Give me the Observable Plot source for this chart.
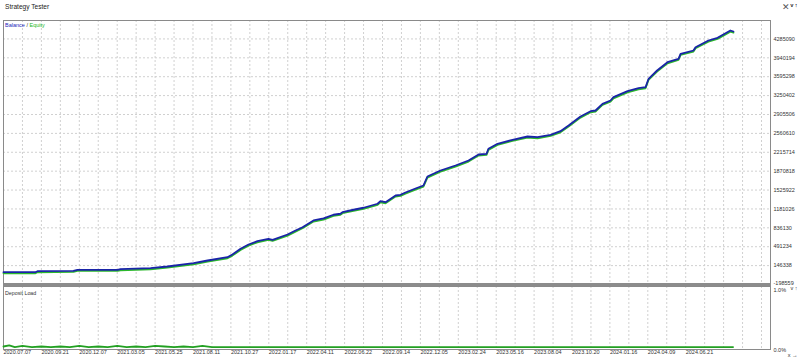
<!DOCTYPE html>
<html>
<head>
<meta charset="utf-8">
<script src="https://cdn.jsdelivr.net/npm/d3@7"></script>
<script src="https://cdn.jsdelivr.net/npm/@observablehq/plot@0.6"></script>
<style>
  html, body { margin: 0; padding: 0; background: #fff; }
  #wrap { position: relative; width: 800px; height: 359px; overflow: hidden; background: #fff; font-family: "Liberation Sans", Arial, sans-serif; }
  .abs { position: absolute; }
  #title { left: 5px; top: 3px; font-size: 6.6px; color: #222; }
  #close { left: 782px; top: 2px; font-size: 9px; color: #555; }
  #legend { left: 5px; top: 22px; font-size: 5.5px; color: #333; }
  #dl { left: 5px; top: 290px; font-size: 5.3px; color: #333; }
  #sep { left: 3px; top: 283px; width: 768px; height: 3px; background: #8c8c8c; }
</style>
</head>
<body>
<div id="wrap">
  <div id="main" class="abs" style="left:0;top:0"></div>
  <div id="load" class="abs" style="left:0;top:283px"></div>
  <div id="sep" class="abs"></div>
  <div id="title" class="abs">Strategy Tester</div>
  <div id="close" class="abs">✕</div>
  <div id="legend" class="abs"><span style="color:#2424b8">Balance</span> / <span style="color:#22b822">Equity</span></div>
  <div id="dl" class="abs">Deposit Load</div>
</div>
<script>
// ---- data ----
const xLabels = ["2020.07.07","2020.09.21","2020.12.07","2021.03.05","2021.05.25","2021.08.11","2021.10.27",
  "2022.01.17","2022.04.11","2022.06.22","2022.09.14","2022.12.05","2023.02.24","2023.05.16",
  "2023.08.04","2023.10.20","2024.01.16","2024.04.09","2024.06.21"];
const yTicks = [-198559,146338,491234,836130,1181026,1525922,1870818,2215714,2560610,2905506,3250402,3595298,3940194,4285090];
const loadTicks = [0, 1];

// balance curve: position along the tester axis (grid units) and balance value
const balanceX = [0,1.69,1.79,3.69,3.9,6.02,6.17,7.76,8.65,10.03,10.77,11.82,12.08,12.51,12.93,13.4,13.98,14.2,14.99,15.41,
  15.78,16.36,16.89,17.41,17.78,17.89,18.47,19.0,19.74,19.89,20.16,20.69,20.95,21.21,21.74,22.16,22.37,23.06,23.85,24.54,
  25.07,25.49,25.59,26.07,26.86,27.65,28.18,28.87,29.39,29.82,30.45,30.98,31.24,31.61,32.03,32.19,32.93,33.51,33.88,34.04,
  34.49,35.04,35.62,35.73,36.41,36.52,37.2,37.68,38.36,38.52];
const balanceV = [26000,26000,44000,51600,69800,69800,80800,99000,130100,190300,239600,299900,349200,453300,531800,592000,635800,617600,714300,787400,
  847600,971000,1007500,1075000,1093300,1122500,1166300,1202800,1275900,1323300,1305100,1426400,1439200,1481200,1554200,1609000,1773300,1882900,1974100,2065400,
  2175000,2187800,2279100,2370300,2443400,2503600,2490800,2534700,2600400,2704500,2868800,2965600,2978300,3100700,3160900,3221200,3330700,3385500,3403700,3557100,
  3708700,3860200,3922300,4013600,4073800,4134100,4256400,4305700,4439000,4420700];

// deposit load (%)
const loadX = [0,0.3,0.6,1,1.5,2,2.5,3,3.5,4,4.5,5,5.5,6,6.5,7,7.5,8,8.5,9,9.5,10,10.5,11,12,14,16,18,20,22,24,26,28,30,32,34,36,38.5];
const loadV = [0.05,0.07,0.04,0.06,0.04,0.05,0.04,0.05,0.04,0.06,0.04,0.05,0.04,0.06,0.04,0.05,0.04,0.06,0.05,0.04,0.05,0.04,0.06,0.04,0.04,0.04,0.04,0.04,0.04,0.04,0.04,0.04,0.04,0.04,0.04,0.04,0.04,0.04];

const balance = balanceX.map((x, i) => ({x, v: balanceV[i]}));
const load = loadX.map((x, i) => ({x, v: loadV[i]}));
const gridPos = d3.range(1, 41);
const labelPos = xLabels.map((d, i) => i * 2);

const common = {
  width: 800,
  marginLeft: 3,
  marginRight: 30,
  style: {fontFamily: "Liberation Sans, Arial, sans-serif", fontSize: "5.5px", background: "transparent", overflow: "visible"}
};
const xDomain = [0, 40.475];
const gridStyle = {stroke: "#d0d0d0", strokeOpacity: 1, strokeDasharray: "2,2", strokeWidth: 1};

const main = Plot.plot({
  ...common,
  height: 286,
  marginTop: 20,
  marginBottom: 2,
  x: {domain: xDomain, axis: null},
  y: {domain: [-198559, 4621550], axis: null},
  marks: [
    Plot.gridX(gridPos, gridStyle),
    Plot.gridY(yTicks.slice(1), gridStyle),
    Plot.frame({stroke: "#8a8a8a"}),
    Plot.line(balance, {x: "x", y: "v", stroke: "#2cb82c", strokeWidth: 1.8, dy: 1.1}),
    Plot.line(balance, {x: "x", y: "v", stroke: "#1a24a8", strokeWidth: 1.8}),
    Plot.axisY(yTicks.slice(1), {anchor: "right", tickSize: 0, tickPadding: 3, fontSize: 5.5, fill: "#333", tickFormat: d => String(d)}),
    Plot.axisY(yTicks.slice(0, 1), {anchor: "right", tickSize: 0, tickPadding: 3, fontSize: 5.5, fill: "#333", dy: -1.5, tickFormat: d => String(d)})
  ]
});
document.getElementById("main").appendChild(main);

const lower = Plot.plot({
  ...common,
  height: 76,
  marginTop: 3,
  marginBottom: 10,
  x: {domain: xDomain},
  y: {domain: [0, 1.05], axis: null},
  marks: [
    Plot.gridX(gridPos, gridStyle),
    Plot.frame({stroke: "#8a8a8a"}),
    Plot.line(load, {x: "x", y: "v", stroke: "#22a022", strokeWidth: 1.8}),
    Plot.axisX(labelPos, {anchor: "bottom", tickSize: 0, tickPadding: 1, textAnchor: "start", fontSize: 5.5, fill: "#333", tickFormat: d => xLabels[d / 2]}),
    Plot.axisY(loadTicks, {anchor: "right", tickSize: 0, tickPadding: 3, fontSize: 5.5, fill: "#333", dy: 1, tickFormat: d => d.toFixed(1) + "%"})
  ]
});
document.getElementById("load").appendChild(lower);
</script>
</body>
</html>
